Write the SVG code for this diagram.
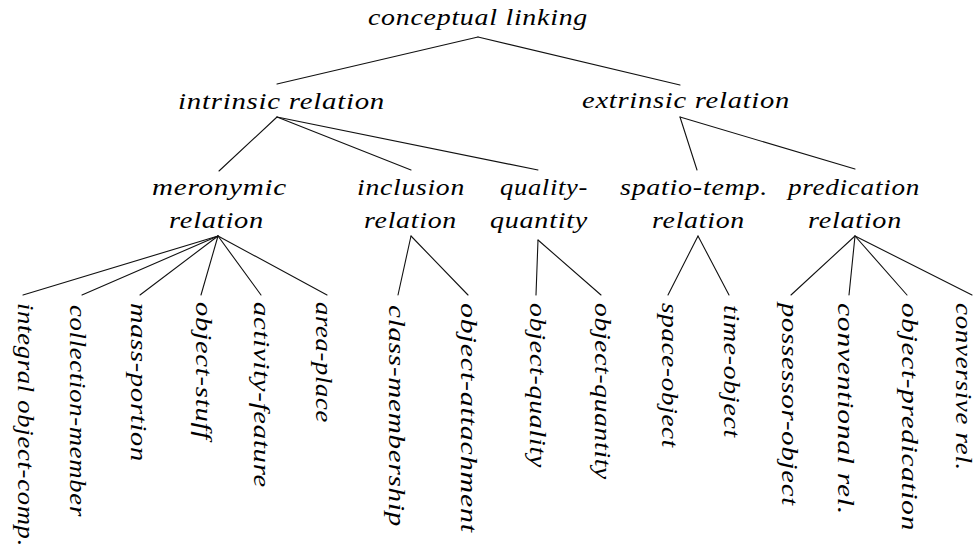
<svg xmlns="http://www.w3.org/2000/svg" width="975" height="557" viewBox="0 0 975 557">
<style>
text{font-family:'Liberation Serif','DejaVu Serif',serif;font-style:italic;font-size:23px;fill:#000;letter-spacing:0.6px}
.e line{stroke:#111;stroke-width:1.1;stroke-linecap:round}
</style>
<rect width="975" height="557" fill="#fff"/>
<g class="e" id="connectors">
<line x1="478" y1="37" x2="277" y2="84"/>
<line x1="478" y1="37" x2="680" y2="85"/>
<line x1="277" y1="117" x2="219" y2="171"/>
<line x1="277" y1="117" x2="411" y2="170"/>
<line x1="277" y1="117" x2="538" y2="170"/>
<line x1="680" y1="117" x2="697" y2="170"/>
<line x1="680" y1="117" x2="855" y2="169"/>
<line x1="218" y1="236" x2="23" y2="295"/>
<line x1="218" y1="236" x2="82" y2="295"/>
<line x1="218" y1="236" x2="140" y2="295"/>
<line x1="218" y1="236" x2="201" y2="295"/>
<line x1="218" y1="236" x2="261" y2="295"/>
<line x1="218" y1="236" x2="327" y2="295"/>
<line x1="411" y1="236" x2="398" y2="295"/>
<line x1="411" y1="236" x2="468" y2="295"/>
<line x1="538" y1="240" x2="536" y2="295"/>
<line x1="538" y1="240" x2="601" y2="295"/>
<line x1="698" y1="236" x2="668" y2="295"/>
<line x1="698" y1="236" x2="729" y2="295"/>
<line x1="855" y1="236" x2="791" y2="295"/>
<line x1="855" y1="236" x2="849" y2="295"/>
<line x1="855" y1="236" x2="907" y2="295"/>
<line x1="855" y1="236" x2="972" y2="295"/>
</g>
<g id="conceptual-linking"><text x="368" y="25" textLength="220" lengthAdjust="spacingAndGlyphs">conceptual linking</text></g>
<g id="intrinsic-relation"><text x="178" y="109" textLength="207" lengthAdjust="spacingAndGlyphs">intrinsic relation</text></g>
<g id="extrinsic-relation"><text x="582" y="108" textLength="208" lengthAdjust="spacingAndGlyphs">extrinsic relation</text></g>
<g id="meronymic-relation">
<text x="152" y="195" textLength="135" lengthAdjust="spacingAndGlyphs">meronymic</text>
<text x="169" y="228" textLength="95" lengthAdjust="spacingAndGlyphs">relation</text>
</g>
<g id="inclusion-relation">
<text x="357" y="195" textLength="108" lengthAdjust="spacingAndGlyphs">inclusion</text>
<text x="364" y="228" textLength="93" lengthAdjust="spacingAndGlyphs">relation</text>
</g>
<g id="quality-quantity">
<text x="500" y="195" textLength="88" lengthAdjust="spacingAndGlyphs">quality-</text>
<text x="490" y="228" textLength="98" lengthAdjust="spacingAndGlyphs">quantity</text>
</g>
<g id="spatio-temp-relation">
<text x="620" y="195" textLength="148" lengthAdjust="spacingAndGlyphs">spatio-temp.</text>
<text x="652" y="228" textLength="93" lengthAdjust="spacingAndGlyphs">relation</text>
</g>
<g id="predication-relation">
<text x="788" y="195" textLength="132" lengthAdjust="spacingAndGlyphs">predication</text>
<text x="808" y="228" textLength="94" lengthAdjust="spacingAndGlyphs">relation</text>
</g>
<g id="integral-object-comp"><text transform="translate(18,303) rotate(90)" textLength="244" lengthAdjust="spacingAndGlyphs">integral object-comp.</text></g>
<g id="collection-member"><text transform="translate(70,305) rotate(90)" textLength="212" lengthAdjust="spacingAndGlyphs">collection-member</text></g>
<g id="mass-portion"><text transform="translate(131,303) rotate(90)" textLength="159" lengthAdjust="spacingAndGlyphs">mass-portion</text></g>
<g id="object-stuff"><text transform="translate(196,302) rotate(90)" textLength="138" lengthAdjust="spacingAndGlyphs">object-stuff</text></g>
<g id="activity-feature"><text transform="translate(254,302) rotate(90)" textLength="186" lengthAdjust="spacingAndGlyphs">activity-feature</text></g>
<g id="area-place"><text transform="translate(316,302) rotate(90)" textLength="121" lengthAdjust="spacingAndGlyphs">area-place</text></g>
<g id="class-membership"><text transform="translate(389,305) rotate(90)" textLength="222" lengthAdjust="spacingAndGlyphs">class-membership</text></g>
<g id="object-attachment"><text transform="translate(461,303) rotate(90)" textLength="230" lengthAdjust="spacingAndGlyphs">object-attachment</text></g>
<g id="object-quality"><text transform="translate(530,303) rotate(90)" textLength="165" lengthAdjust="spacingAndGlyphs">object-quality</text></g>
<g id="object-quantity"><text transform="translate(595,303) rotate(90)" textLength="177" lengthAdjust="spacingAndGlyphs">object-quantity</text></g>
<g id="space-object"><text transform="translate(662,303) rotate(90)" textLength="145" lengthAdjust="spacingAndGlyphs">space-object</text></g>
<g id="time-object"><text transform="translate(724,305) rotate(90)" textLength="133" lengthAdjust="spacingAndGlyphs">time-object</text></g>
<g id="possessor-object"><text transform="translate(782,303) rotate(90)" textLength="203" lengthAdjust="spacingAndGlyphs">possessor-object</text></g>
<g id="conventional-rel"><text transform="translate(838,303) rotate(90)" textLength="212" lengthAdjust="spacingAndGlyphs">conventional rel.</text></g>
<g id="object-predication"><text transform="translate(902,303) rotate(90)" textLength="228" lengthAdjust="spacingAndGlyphs">object-predication</text></g>
<g id="conversive-rel"><text transform="translate(956,303) rotate(90)" textLength="168" lengthAdjust="spacingAndGlyphs">conversive rel.</text></g>
</svg>
